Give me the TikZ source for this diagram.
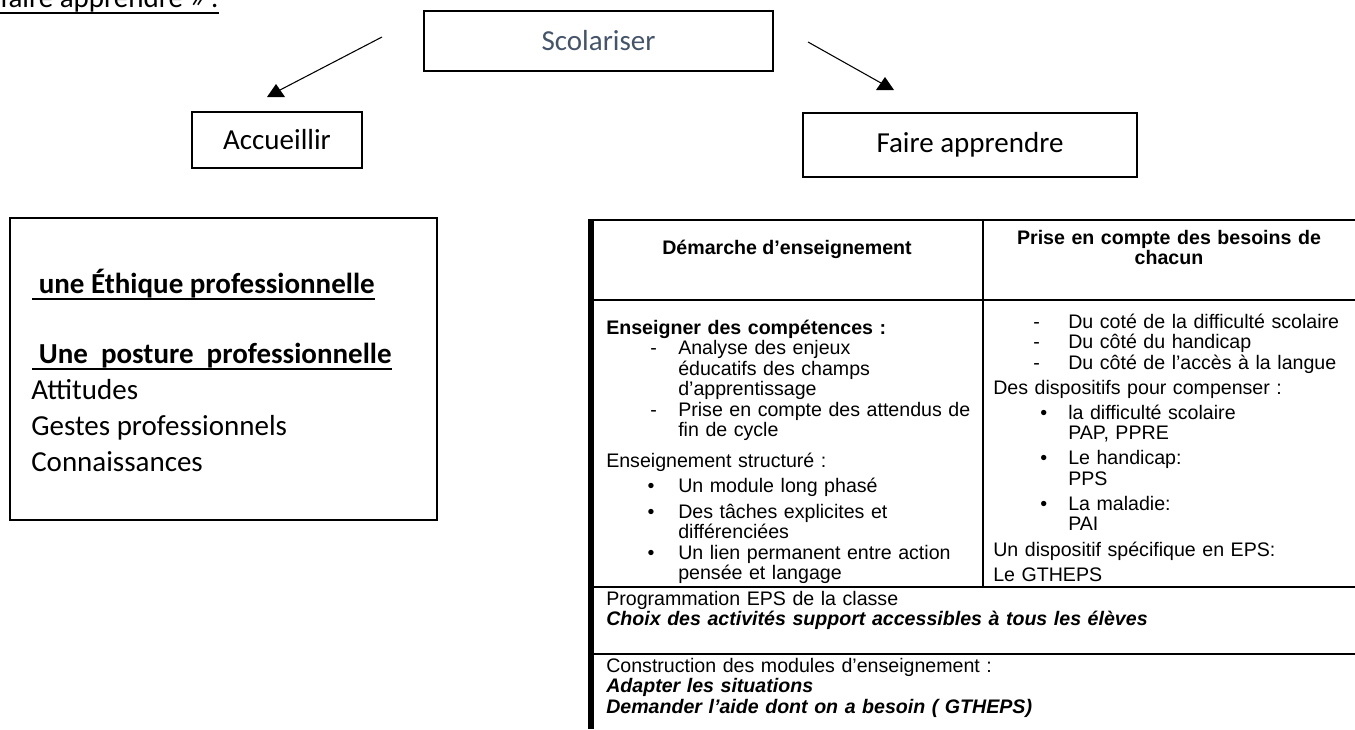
\documentclass[tikz,border=0pt]{standalone}
\usepackage{fontspec}
\setmainfont{Carlito}
\newfontfamily\arial{Liberation Sans}
\usetikzlibrary{arrows.meta}
\definecolor{slate}{HTML}{44546A}
\newcommand{\bigtxt}{\fontsize{21.75}{27}\selectfont}
\newcommand{\tabtxt}{\arial\fontsize{14.7}{15.4}\selectfont}
\newcommand{\itemline}[4]{\hspace*{#1}\makebox[#2][l]{#3}#4}
\newcommand{\contline}[2]{\hspace*{#1}#2}
\newsavebox{\ulsave}
\newcommand{\ulword}[1]{\leavevmode\sbox{\ulsave}{#1}\rlap{\rule[-5pt]{\wd\ulsave}{1.5pt}}\usebox{\ulsave}}
\tikzstyle{box} = [rectangle, draw, line width=1.1pt, font=\bigtxt]
\tikzstyle{line} = [anchor=base west, inner sep=0pt, font=\bigtxt]
\tikzstyle{cell} = [inner sep=0pt, font=\tabtxt]
\tikzstyle{rule} = [line width=1.4pt]
\tikzstyle{arrow} = [line width=0.8pt]
\tikzstyle{tiphead} = [fill=black]

\begin{document}
\begin{tikzpicture}[x=0.75pt, y=-0.75pt]
  \useasboundingbox (0,0) rectangle (1355,729);
  % heading cut by the page
  \node[line] (intro) at (0,7) {\ulword{faire apprendre » :}};
  % the three boxes
  \node[box, minimum width=261.75pt, minimum height=45pt, text=slate] (scol) at (598.5,41) {Scolariser};
  \node[box, minimum width=127.5pt, minimum height=42pt] (accu) at (277,140) {Accueillir};
  \node[box, minimum width=250.5pt, minimum height=48pt] (faire) at (970,145) {Faire apprendre};
  % arrows, heads drawn upright as in the source
  \coordinate (a1s) at (382,37);
  \coordinate (a1e) at (280,90);
  \coordinate (a1t) at (276,84);
  \coordinate (a2s) at (808,42);
  \coordinate (a2e) at (881,83);
  \coordinate (a2t) at (885,77);
  \draw[arrow] (a1s) -- (a1e);
  \fill[tiphead] (a1t) -- ++(-9,13) -- ++(18,0) -- cycle;
  \draw[arrow] (a2s) -- (a2e);
  \fill[tiphead] (a2t) -- ++(-9,13) -- ++(18,0) -- cycle;
  % left box
  \node[box, minimum width=320.25pt, minimum height=226.5pt] (ethic) at (223.5,369) {};
  \node[line, font=\bigtxt\bfseries] (eth) at (32,293) {\ulword{\ une Éthique professionnelle}};
  \node[line, font=\bigtxt\bfseries] (post) at (32,363) {\ulword{\ Une\ \ posture\ \ professionnelle}};
  \foreach \txt/\yy [count=\i] in {Attitudes/399, Gestes professionnels/435, Connaissances/471}
    \node[line] (qual\i) at (31,\yy) {\txt};
  % table
  \draw[rule, line width=2.2pt] (591,220) -- (1355,220);
  \draw[rule, line width=3.8pt] (591,219) -- (591,729);
  \draw[rule] (591,300) -- (1355,300);
  \draw[rule] (983,220) -- (983,587);
  \draw[rule] (591,587) -- (1355,587);
  \draw[rule] (591,654) -- (1355,654);
  \node[cell, anchor=base] (dem) at (787,254) {\textbf{Démarche d’enseignement}};
  \node[cell, anchor=base, text width=270pt, align=center] (bes) at (1169,244)
    {\textbf{Prise en compte des besoins de\\ chacun}};
  \node[cell, anchor=base west, text width=280pt, align=left] (ens) at (606,334)
    {\textbf{Enseigner des compétences :}\\
     \itemline{33pt}{21pt}{-}{Analyse des enjeux}\\
     \contline{54pt}{éducatifs des champs}\\
     \contline{54pt}{d’apprentissage}\\
     \itemline{33pt}{21pt}{-}{Prise en compte des attendus de}\\
     \contline{54pt}{fin de cycle}\\[7.5pt]
     Enseignement structuré :\\[3.75pt]
     \itemline{31pt}{23pt}{\textbullet}{Un module long phasé}\\[3.75pt]
     \itemline{31pt}{23pt}{\textbullet}{Des tâches explicites et}\\
     \contline{54pt}{différenciées}\\
     \itemline{31pt}{23pt}{\textbullet}{Un lien permanent entre action}\\
     \contline{54pt}{pensée et langage}};
  \node[cell, anchor=base west, text width=270pt, align=left] (cpt) at (993,328)
    {\itemline{30pt}{26.25pt}{-}{Du coté de la difficulté scolaire}\\
     \itemline{30pt}{26.25pt}{-}{Du côté du handicap}\\
     \itemline{30pt}{26.25pt}{-}{Du côté de l’accès à la langue}\\[3.4pt]
     Des dispositifs pour compenser :\\[3.4pt]
     \itemline{35.25pt}{21pt}{\textbullet}{la difficulté scolaire}\\
     \contline{56.25pt}{PAP, PPRE}\\[3.4pt]
     \itemline{35.25pt}{21pt}{\textbullet}{Le handicap:}\\
     \contline{56.25pt}{PPS}\\[3.4pt]
     \itemline{35.25pt}{21pt}{\textbullet}{La maladie:}\\
     \contline{56.25pt}{PAI}\\[3.4pt]
     Un dispositif spécifique en EPS:\\[3.4pt]
     Le GTHEPS};
  \node[cell, anchor=base west, text width=560pt, align=left] (prog) at (606,605)
    {Programmation EPS de la classe\\
     \textbf{\itshape Choix des activités support accessibles à tous les élèves}};
  \node[cell, anchor=base west, text width=560pt, align=left] (cons) at (606,672)
    {Construction des modules d’enseignement :\\
     \textbf{\itshape Adapter les situations}\\
     \textbf{\itshape Demander l’aide dont on a besoin ( GTHEPS)}};
\end{tikzpicture}
\end{document}
